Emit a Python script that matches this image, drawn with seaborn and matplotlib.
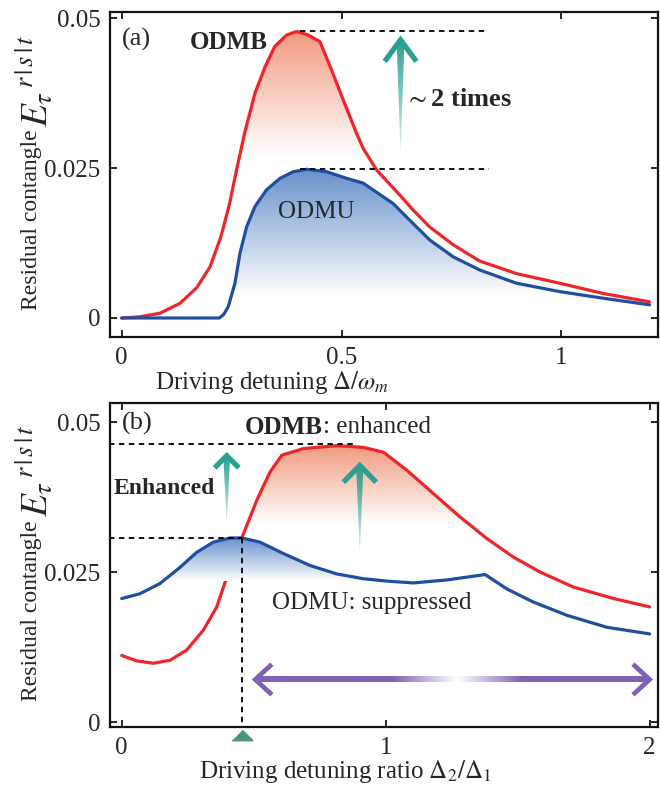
import numpy as np
import matplotlib
matplotlib.use('Agg')
import matplotlib.pyplot as plt
import matplotlib.transforms as mtransforms
from matplotlib.colors import to_rgb
from matplotlib.patches import Polygon
import seaborn as sns

# ---- data ----
# panel (a): residual contangle vs driving detuning
a_x_red = [0.0, 0.042, 0.087, 0.1325, 0.170, 0.2007, 0.2257, 0.245, 0.262, 0.28, 0.303, 0.326, 0.348,
           0.375, 0.3977, 0.424, 0.4507, 0.477, 0.5036, 0.534, 0.549, 0.5795, 0.6325, 0.6627, 0.70,
           0.754, 0.814, 0.898, 0.996, 1.094, 1.2]
a_y_red = [0.0, 0.0002, 0.0008, 0.00245, 0.0050, 0.0085, 0.0136, 0.0190, 0.0250, 0.031, 0.0375, 0.0419,
           0.0453, 0.0472, 0.0478, 0.0472, 0.0461, 0.0414, 0.0364, 0.0308, 0.0283, 0.0247, 0.0205,
           0.018, 0.0152, 0.0122, 0.0095, 0.0074, 0.0058, 0.0041, 0.0027]
a_x_blue = [0.0, 0.222, 0.232, 0.2423, 0.2575, 0.2689, 0.284, 0.303, 0.3295, 0.36, 0.39, 0.4205, 0.466,
            0.511, 0.549, 0.617, 0.655, 0.7007, 0.7537, 0.8143, 0.8977, 0.9961, 1.0945, 1.2]
a_y_blue = [0.0, 0.0, 0.0006, 0.0019, 0.0058, 0.0108, 0.0152, 0.0186, 0.0214, 0.0233, 0.0244, 0.0248,
            0.0244, 0.0233, 0.0225, 0.0191, 0.0163, 0.0130, 0.0102, 0.0080, 0.0058, 0.0044, 0.0033,
            0.0022]

# panel (b): residual contangle vs detuning ratio
b_x_red = [0.0, 0.057, 0.12, 0.183, 0.246, 0.309, 0.36, 0.3916, 0.455, 0.512, 0.562, 0.6065, 0.688,
           0.815, 0.916, 0.9917, 1.08, 1.181, 1.282, 1.3836, 1.4845, 1.5857, 1.712, 1.8636, 2.0]
b_y_red = [0.0111, 0.0102, 0.0098, 0.0103, 0.0120, 0.0153, 0.0192, 0.0233, 0.0307, 0.037, 0.0417,
           0.0445, 0.0456, 0.0461, 0.0458, 0.045, 0.042, 0.0381, 0.0342, 0.0306, 0.0275, 0.025,
           0.0225, 0.0206, 0.0192]
b_x_blue = [0.0, 0.069, 0.145, 0.221, 0.284, 0.347, 0.4105, 0.455, 0.524, 0.6126, 0.714, 0.815, 0.916,
            1.0045, 1.1054, 1.232, 1.377, 1.459, 1.56, 1.687, 1.8385, 2.0]
b_y_blue = [0.0206, 0.0214, 0.0231, 0.0258, 0.0283, 0.030, 0.0307, 0.0307, 0.030, 0.0281, 0.0261,
            0.0247, 0.0239, 0.0235, 0.0232, 0.0237, 0.0246, 0.0222, 0.020, 0.0178, 0.0158, 0.0147]

a_xticks = [0, 0.5, 1]
b_xticks = [0, 1, 2]
yticks = [0, 0.025, 0.05]
ytick_labels = ['0', '0.025', '0.05']

RED = '#ee2529'
BLUE = '#1f4f9e'
RED_FILL = '#f29a80'
BLUE_FILL = '#6690cc'
TEAL = '#2aa093'
PURPLE = '#7f62b5'

sns.set_style('ticks')
plt.rcParams['font.family'] = ['Liberation Serif', 'DejaVu Serif']
plt.rcParams['mathtext.fontset'] = 'stix'
FS = 18


def grad_fill(ax, x, y, base, lo, hi, color, z):
    # white -> color vertical gradient, clipped to the area between curve and base
    rgb = np.array(to_rgb(color))
    t = np.linspace(0, 1, 256)
    img = np.ones((256, 1, 4))
    img[:, 0, :3] = (1 - t)[:, None] + t[:, None] * rgb
    verts = np.column_stack([np.r_[x[0], x, x[-1]], np.r_[base, y, base]])
    poly = Polygon(verts, closed=True, fc='none', ec='none')
    ax.add_patch(poly)
    im = ax.imshow(img, extent=[min(x), max(x), lo, hi], origin='lower', aspect='auto',
                   zorder=z, interpolation='bilinear')
    im.set_clip_path(poly)


def up_arrow(ax, x, yb, yt, sw, hw, hh):
    # tapered, fading shaft + open chevron head
    rgb = np.array(to_rgb(TEAL))
    t = np.linspace(0, 1, 128)
    img = np.zeros((128, 1, 4))
    img[:, 0, :3] = rgb
    img[:, 0, 3] = 0.15 + 0.85 * t
    poly = Polygon([(x, yb), (x - sw, yt), (x + sw, yt)], closed=True, fc='none', ec='none')
    ax.add_patch(poly)
    im = ax.imshow(img, extent=[x - sw, x + sw, yb, yt], origin='lower', aspect='auto',
                   zorder=6, interpolation='bilinear')
    im.set_clip_path(poly)
    ax.plot([x - hw, x, x + hw], [yt - hh, yt, yt - hh], color=TEAL, lw=3.8,
            solid_joinstyle='miter', solid_capstyle='butt', zorder=6)


def style_axes(ax, xticks, xlim, ylim):
    ax.set_xlim(*xlim)
    ax.set_ylim(*ylim)
    ax.set_xticks(xticks)
    ax.set_xticklabels([f'{v:g}' for v in xticks])
    ax.set_yticks(yticks)
    ax.set_yticklabels(ytick_labels)
    ax.tick_params(direction='in', length=5, width=1.4, labelsize=FS, pad=7,
                   top=True, right=True)
    for s in ax.spines.values():
        s.set_linewidth(1.6)
        s.set_color('#111111')
    lab = ax.set_ylabel('Residual contangle', fontsize=FS - 1)
    ax.yaxis.set_label_coords(-0.124, 0.36)
    ax.annotate(r'$E_{\tau}{}^{\,r\,|\,s\,|\,t}$', xy=(1, 1), xycoords=lab, xytext=(4, 2),
                textcoords='offset points', rotation=90, rotation_mode='anchor',
                ha='left', va='baseline', fontsize=27)


def curve(ax, x, y, color, z):
    sns.lineplot(x=x, y=y, ax=ax, color=color, lw=2.3, zorder=z,
                 solid_joinstyle='round', solid_capstyle='round')


fig = plt.figure(figsize=(6.6, 7.87), dpi=100)
ax1 = fig.add_axes([0.1667, 0.5718, 0.8303, 0.413])
ax2 = fig.add_axes([0.1667, 0.0762, 0.8303, 0.4117])

# ---------------- panel (a) ----------------
grad_fill(ax1, a_x_red, a_y_red, 0.027, 0.027, 0.0478, RED_FILL, 1.5)
grad_fill(ax1, a_x_blue, a_y_blue, 0.0, 0.0036, 0.0248, BLUE_FILL, 1.5)
curve(ax1, a_x_red, a_y_red, RED, 3)
curve(ax1, a_x_blue, a_y_blue, BLUE, 4)
ax1.plot([0.405, 0.83], [0.0478, 0.0478], ls=(0, (3, 2.5)), lw=1.3, color='k', zorder=5)
ax1.plot([0.405, 0.836], [0.0249, 0.0249], ls=(0, (3, 2.5)), lw=1.3, color='k', zorder=5)
up_arrow(ax1, 0.634, 0.0275, 0.0464, 0.009, 0.036, 0.0036)

ax1.text(0.0, 0.0464, '(a)', fontsize=FS + 1, va='center', ha='left')
ax1.text(0.155, 0.046, 'ODMB', fontsize=FS, fontweight='bold', va='center', ha='left')
ax1.text(0.645, 0.0364, r'$\sim$2 times', fontsize=FS + 1, fontweight='bold', va='center', ha='left')
ax1.text(0.355, 0.0177, 'ODMU', fontsize=FS, va='center', ha='left', zorder=7)

style_axes(ax1, a_xticks, (-0.0266, 1.2195), (-0.00317, 0.05105))
ax1.set_xlabel(r'Driving detuning $\Delta/\omega_m$', fontsize=FS)
ax1.xaxis.set_label_coords(0.296, -0.1)

# ---------------- panel (b) ----------------
grad_fill(ax2, b_x_red, b_y_red, 0.033, 0.033, 0.0461, RED_FILL, 1.5)
curve(ax2, b_x_red, b_y_red, RED, 2)
grad_fill(ax2, b_x_blue, b_y_blue, 0.0235, 0.0235, 0.0307, BLUE_FILL, 2.5)
curve(ax2, b_x_blue, b_y_blue, BLUE, 3)

ax2.plot([-0.05, 0.886], [0.0464, 0.0464], ls=(0, (3, 2.5)), lw=1.3, color='k', zorder=5)
ax2.plot([-0.05, 0.455], [0.0307, 0.0307], ls=(0, (3, 2.5)), lw=1.3, color='k', zorder=5)
ax2.plot([0.455, 0.455], [0.0307, -0.001], ls=(0, (3, 2.5)), lw=1.3, color='k', zorder=5)
trans = mtransforms.blended_transform_factory(ax2.transData, ax2.transAxes)
ax2.plot([0.455], [-0.025], transform=trans, marker=[(-1, -0.5), (1, -0.5), (0, 0.5)], ms=15,
         color='#4f9479', clip_on=False, zorder=8)

up_arrow(ax2, 0.398, 0.0328, 0.0444, 0.013, 0.046, 0.002)
up_arrow(ax2, 0.902, 0.0281, 0.0428, 0.014, 0.062, 0.0028)

# purple double arrow with faded middle
py, px0, px1 = 0.0071, 0.506, 2.0
xs = np.linspace(px0, px1, 400)
pimg = np.zeros((1, 400, 4))
pimg[0, :, :3] = np.array(to_rgb(PURPLE))
pimg[0, :, 3] = np.clip(np.abs(xs - 1.27) / 0.25, 0.03, 1.0)
ax2.imshow(pimg, extent=[px0 + 0.01, px1 - 0.01, py - 0.00042, py + 0.00042], origin='lower',
           aspect='auto', zorder=6, interpolation='bilinear')
ax2.plot([px0 + 0.063, px0, px0 + 0.063], [py + 0.00255, py, py - 0.00255], color=PURPLE, lw=3.4,
         solid_joinstyle='miter', solid_capstyle='butt', zorder=6)
ax2.plot([px1 - 0.063, px1, px1 - 0.063], [py + 0.00255, py, py - 0.00255], color=PURPLE, lw=3.4,
         solid_joinstyle='miter', solid_capstyle='butt', zorder=6)

ax2.text(0.0, 0.0498, '(b)', fontsize=FS + 1, va='center', ha='left')
t1 = ax2.text(0.468, 0.0492, 'ODMB', fontsize=FS, fontweight='bold', va='center', ha='left')
ax2.annotate(': enhanced', xy=(1, 0.5), xycoords=t1, fontsize=FS, va='center', ha='left')
ax2.text(-0.03, 0.039, 'Enhanced', fontsize=FS - 1, fontweight='bold', va='center', ha='left')
ax2.text(0.57, 0.0198, 'ODMU: suppressed', fontsize=FS, va='center', ha='left', zorder=7)

style_axes(ax2, b_xticks, (-0.0443, 2.032), (-0.00083, 0.0532))
ax2.set_xlabel(r'Driving detuning ratio $\Delta_2/\Delta_1$', fontsize=FS)
ax2.xaxis.set_label_coords(0.43, -0.095)

fig.savefig('out.png', dpi=100)
